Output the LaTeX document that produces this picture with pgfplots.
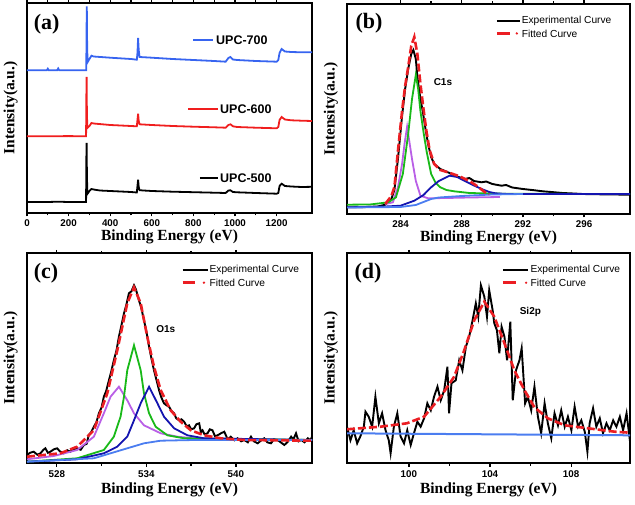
\documentclass[border=0pt]{standalone}
\usepackage{fontspec}
\setmainfont{Liberation Serif}
\newfontfamily\arialf{Liberation Sans}
\usepackage{pgfplots}
\pgfplotsset{compat=1.18}

\definecolor{fitred}{RGB}{235,30,35}
\definecolor{cgreen}{RGB}{25,185,25}
\definecolor{cpurple}{RGB}{185,95,230}
\definecolor{cblue}{RGB}{20,20,175}
\definecolor{clblue}{RGB}{75,125,240}
\definecolor{ablue}{RGB}{55,100,240}
\definecolor{ared}{RGB}{240,30,30}

\pgfplotsset{
  panel/.style={
    scale only axis, height=210pt, anchor=south west,
    axis line style={line width=2pt},
    ymin=0, ymax=210, ytick=\empty,
    tick align=outside, major tick length=3.5pt, minor tick length=2.5pt,
    every tick/.style={line width=1.3pt, black},
    minor x tick num=1,
    xticklabel style={font=\arialf\bfseries\fontsize{9.8}{11}\selectfont},
    /pgf/number format/assume math mode=true,
    /pgf/number format/set thousands separator={},
    xlabel={Binding Energy (eV)}, ylabel={Intensity(a.u.)},
    label style={font=\bfseries\fontsize{15.5}{18}\selectfont},
    ylabel style={at={(axis description cs:-0.057,0.5)}, anchor=center},
  },
  exp/.style={black, line width=1.9pt},
  fit/.style={fitred, line width=2.6pt, dash pattern=on 8pt off 3pt},
  comp/.style={line width=1.8pt},
}
\newcommand{\plab}[3]{\node[font=\bfseries\fontsize{22}{24}\selectfont] at (axis description cs:#1,#2) {#3};}
\newcommand{\leg}[4]{% x0 x1 xdot xtext
  \draw[black, line width=2pt] (axis description cs:#1,0.919) -- (axis description cs:#2,0.919);
  \node[anchor=west, inner sep=0pt, font=\arialf\fontsize{10.2}{12}\selectfont] at (axis description cs:#4,0.919) {Experimental Curve};
  \draw[fitred, line width=2.6pt] (axis description cs:#1,0.860) -- (axis description cs:#1+0.045,0.860);
  \fill[fitred] (axis description cs:#3,0.860) circle (1.3pt);
  \node[anchor=west, inner sep=0pt, font=\arialf\fontsize{10.2}{12}\selectfont] at (axis description cs:#4,0.860) {Fitted Curve};
}

\begin{document}
\begin{tikzpicture}
\path[use as bounding box] (0,0) rectangle (635pt,504pt);

% (a) survey spectra
\begin{axis}[panel, at={(27pt,291pt)}, width=285pt,
  xmin=0, xmax=1370, xtick={0,200,...,1200},
  xlabel style={at={(axis description cs:0.5,-0.112)}, anchor=center}]
\addplot[black, line width=1.8pt] coordinates {
(0,11) (100,11) (150,11.3) (200,11) (284,11) (285,50) (286.5,70) (288,40) (290,19)
(300,22) (310,24) (320,23.5) (350,22.5) (400,22) (450,21.5) (500,21) (528,20.5)
(531,27) (534,33.3) (537,26) (541,22.8) (560,22.5) (600,22) (700,21.3) (800,20.8)
(900,20.3) (955,20) (968,22.5) (978,22.7) (990,21) (1010,20.7) (1100,20) (1200,19.3)
(1208,20) (1214,27) (1224,29.3) (1240,27) (1270,26.5) (1320,26) (1370,26.2)};
\addplot[ared, line width=1.8pt] coordinates {
(0,76.7) (100,76.7) (200,76.9) (284,76.7) (285,110) (286.5,136) (288,100) (290,85)
(300,87) (310,90) (320,89.5) (400,88) (500,87) (528,86.7) (531,93) (534,99.3)
(537,92) (541,88.7) (600,88) (700,87) (800,86.3) (900,85.7) (955,85.3) (968,88)
(978,88.7) (990,86.7) (1010,86) (1100,85.3) (1200,84.7) (1208,86) (1214,93)
(1224,96) (1240,93.5) (1270,92.7) (1320,92.3) (1370,92)};
\addplot[ablue, line width=1.8pt] coordinates {
(0,142.7) (95,142.7) (100,144.3) (105,142.7) (145,142.7) (150,144.5) (155,142.7)
(285,142.7) (286,175) (287.5,206.7) (289,170) (291,150.7) (300,154) (310,157.3)
(320,156.5) (400,155.3) (500,154) (528,153.3) (531,160) (534,175) (537,163)
(541,156) (600,155.3) (700,154) (800,153) (900,152) (955,151.3) (968,155) (978,156)
(990,153.5) (1010,153) (1100,152) (1200,151.3) (1208,153) (1214,160) (1224,164)
(1240,161.5) (1270,161) (1320,160.7) (1370,160.7)};
\draw[ablue, line width=2pt] (axis description cs:0.583,0.824) -- (axis description cs:0.654,0.824);
\node[anchor=west, inner sep=0pt, font=\arialf\bfseries\fontsize{12.5}{14}\selectfont] at (axis description cs:0.663,0.824) {UPC-700};
\draw[ared, line width=2pt] (axis description cs:0.565,0.495) -- (axis description cs:0.670,0.495);
\node[anchor=west, inner sep=0pt, font=\arialf\bfseries\fontsize{12.5}{14}\selectfont] at (axis description cs:0.677,0.495) {UPC-600};
\draw[black, line width=2pt] (axis description cs:0.607,0.168) -- (axis description cs:0.670,0.168);
\node[anchor=west, inner sep=0pt, font=\arialf\bfseries\fontsize{12.5}{14}\selectfont] at (axis description cs:0.677,0.168) {UPC-500};
\plab{0.069}{0.90}{(a)}
\end{axis}

% (b) C1s
\begin{axis}[panel, at={(347pt,290pt)}, width=283pt,
  xmin=280.5, xmax=299, xtick={284,288,292,296},
  xlabel style={at={(axis description cs:0.5,-0.112)}, anchor=center}]
\addplot[exp] coordinates {
(280.5,6.7) (281.5,6.8) (282.5,7.5) (283,9.3) (283.4,15) (283.6,24) (283.83,55)
(284.1,98) (284.3,125) (284.5,145) (284.7,160) (284.84,164) (285.0,155) (285.1,137)
(285.3,115) (285.45,103) (285.6,88) (285.8,70) (286.0,57) (286.2,50) (286.6,45)
(287.1,41.7) (287.6,38) (288.2,35) (288.5,36) (288.8,33) (289.3,31.7) (289.6,32.5)
(290,30) (290.6,28.3) (290.9,29) (291.3,26.5) (292,25) (292.6,24) (293.3,22.7)
(294,21.8) (294.6,21) (295.3,20.5) (295.9,20) (297,19.7) (298,19.5) (299,19.3)};
\addplot[comp, cpurple] coordinates {
(283.0,10) (283.5,11.7) (283.83,26.7) (284.1,50) (284.26,70) (284.43,87.3) (284.6,70)
(284.75,55) (285.0,33) (285.3,18.3) (285.8,15.7) (287,16) (288.5,16.5) (290.5,17)};
\addplot[comp, cgreen] coordinates {
(280.5,9.3) (282,9.5) (283.2,11.7) (283.7,16.7) (284.15,40) (284.5,80) (284.75,115)
(285.0,139.3) (285.15,125) (285.3,103) (285.5,82) (285.7,63) (286.0,40) (286.3,31)
(286.6,26.7) (287.0,24) (287.5,22.7) (288.5,21) (289.3,20.7) (291,20.2) (299,20)};
\addplot[comp, cblue] coordinates {
(280.5,6.7) (283,7.5) (284,8.3) (284.9,13.3) (285.5,19) (286,26.7) (286.5,33)
(287.2,38.3) (287.7,37) (288.2,33) (288.8,28.5) (289.3,25) (289.8,22) (290.2,20.7)
(291,20) (299,20)};
\addplot[comp, clblue] coordinates {
(280.5,6.5) (284,7) (285,9) (285.5,12) (286,15) (286.5,16.5) (287,17) (288,18)
(290,19.5) (292,20)};
\addplot[fit] coordinates {
(283.0,10) (283.4,18) (283.6,27) (283.83,63) (284.1,103) (284.3,128) (284.5,147)
(284.7,168) (284.9,177) (285.1,160) (285.3,130) (285.5,105) (285.7,82) (285.9,64)
(286.2,50) (286.6,44) (287.1,41.7) (287.8,38) (288.5,33) (289,28) (289.5,22) (289.8,20)};
\node[font=\arialf\bfseries\fontsize{10}{12}\selectfont] at (axis description cs:0.339,0.630) {C1s};
\leg{0.530}{0.611}{0.600}{0.617}
\plab{0.078}{0.91}{(b)}
\end{axis}

% (c) O1s
\begin{axis}[panel, at={(27pt,40.7pt)}, width=285pt,
  xmin=526, xmax=545.1, xtick={528,534,540},
  xlabel style={at={(axis description cs:0.5,-0.128)}, anchor=center}]
\addplot[exp] coordinates {
(526.0,8.3) (526.2,10.5) (526.45,11.6) (526.7,8.5) (526.9,10) (527.1,13.5) (527.23,15)
(527.4,10.5) (527.57,11.6) (527.8,14) (528.02,15) (528.2,12) (528.46,10) (528.7,13)
(528.91,11.6) (529.1,14) (529.36,15) (529.6,13.5) (529.81,18.3) (530.0,19.5)
(530.14,28.3) (530.3,31) (530.48,36.6) (530.65,41) (530.82,50) (531.0,56) (531.15,66.6)
(531.3,72) (531.49,83) (531.65,92) (531.82,103) (532.0,113) (532.16,126.6) (532.3,136)
(532.5,150) (532.65,158) (532.83,170) (533.0,172) (533.17,178) (533.3,174) (533.5,163)
(533.65,156) (533.84,143) (534.0,132) (534.18,116.6) (534.35,104) (534.51,93)
(534.7,82) (534.85,73) (535.0,66) (535.18,60) (535.35,58) (535.52,56.6) (535.7,52)
(535.86,50) (536.0,45) (536.19,43) (536.35,44) (536.53,41.6) (536.7,37) (536.86,38)
(537.0,34) (537.2,35) (537.35,39) (537.54,40) (537.65,31) (537.76,33) (537.9,29)
(538.1,30) (538.25,34) (538.43,33) (538.6,27) (538.77,28) (539.0,30) (539.22,31.6)
(539.45,24) (539.66,26.6) (539.9,23) (540.11,25) (540.35,22) (540.56,23.3) (540.8,21)
(541.01,26.6) (541.2,22) (541.46,20) (541.7,23) (541.9,25) (542.1,21) (542.35,20)
(542.55,24) (542.8,23.3) (543.0,21) (543.25,18.3) (543.5,22) (543.7,26.6) (543.85,24)
(544.03,30) (544.2,22) (544.37,23.3) (544.6,21) (544.82,25) (545.0,23) (545.1,26.6)};
\addplot[comp, cpurple] coordinates {
(526,4) (527.79,7.3) (529.36,13.3) (530.48,26.6) (531.15,50) (531.6,66.6)
(532.16,76.6) (532.72,63) (533.17,50) (533.84,38) (534.96,30) (536.08,26.6)
(537.2,25) (539.44,23.5) (545.1,23.3)};
\addplot[comp, cgreen] coordinates {
(526,1.6) (529.36,5) (531.15,13.3) (531.82,26.6) (532.27,46.6) (532.5,66.6)
(532.72,93) (533.17,118) (533.62,93) (533.84,70) (534.18,50) (534.62,36.6)
(535.41,28) (536.53,25) (545.1,23.3)};
\addplot[comp, cblue] coordinates {
(526,1.6) (529.36,4) (531.15,10) (532.05,16.6) (532.72,26.6) (533.17,43) (533.62,60)
(534.18,76.6) (534.74,60) (535.18,46.6) (535.86,35) (536.75,28) (537.87,25) (545.1,23.3)};
\addplot[comp, clblue] coordinates {
(526,1.6) (530.48,5) (532.72,15) (533.84,20) (534.96,22.6) (537.2,23.3) (545.1,23.3)};
\addplot[fit] coordinates {
(526.0,6.6) (528.24,10) (529.36,16.6) (530.48,33) (531.38,70) (532.05,113)
(532.72,160) (533.17,176) (533.62,160) (534.06,126.6) (534.51,96.6) (534.96,73)
(535.63,53) (536.3,41.6) (536.98,33) (537.87,28) (538.99,25) (540.56,23.3) (545.1,22.6)};
\node[font=\arialf\bfseries\fontsize{10}{12}\selectfont] at (axis description cs:0.487,0.638) {O1s};
\leg{0.546}{0.636}{0.621}{0.640}
\plab{0.067}{0.906}{(c)}
\end{axis}

% (d) Si2p
\begin{axis}[panel, at={(347pt,40.7pt)}, width=283pt,
  xmin=96.95, xmax=110.9, xtick={100,104,108},
  xlabel style={at={(axis description cs:0.5,-0.128)}, anchor=center}]
\addplot[exp] coordinates {
(96.95,36.6) (97.12,23) (97.28,33) (97.45,20) (97.61,27) (97.78,36.6) (97.86,51.6)
(98.02,46.6) (98.19,36.6) (98.35,66.6) (98.52,40) (98.68,50) (98.85,33) (99.01,23)
(99.1,10) (99.26,36.6) (99.43,50) (99.59,27) (99.76,20) (99.92,33) (100.09,18.3)
(100.25,30) (100.42,41.6) (100.58,36.6) (100.75,45) (100.91,60) (101.08,53)
(101.24,66.6) (101.41,76.6) (101.57,63) (101.74,73) (101.9,96.6) (101.98,50)
(102.1,80) (102.31,83) (102.48,103) (102.64,93) (102.81,116.6) (102.97,126.6)
(103.14,143) (103.3,160) (103.42,146.6) (103.55,178) (103.72,166.6) (103.85,146.6)
(103.96,173) (104.13,153) (104.21,140) (104.34,133) (104.46,110) (104.57,136.6)
(104.71,126.6) (104.84,103) (105.0,141.6) (105.12,63) (105.28,93) (105.45,103)
(105.56,115) (105.73,60) (105.86,66.6) (106.03,53) (106.19,76.6) (106.36,46.6)
(106.52,30) (106.69,60) (106.85,40) (107.02,25) (107.18,50) (107.35,38) (107.51,53)
(107.68,36.6) (107.84,46.6) (108.01,33) (108.17,56.6) (108.34,36.6) (108.5,43)
(108.67,31.6) (108.8,11.6) (108.91,40) (109.08,55) (109.24,36.6) (109.41,45)
(109.57,30) (109.74,40) (109.9,33) (110.07,43) (110.23,36.6) (110.4,46.6)
(110.56,33) (110.73,50) (110.9,22)};
\addplot[comp, clblue, line width=2pt] coordinates {(96.95,30) (110.9,28)};
\addplot[fit] coordinates {
(96.95,34) (98.6,36.6) (99.9,40) (100.75,46.6) (101.57,66.6) (102.23,86.6)
(102.73,113) (103.22,143) (103.72,161.6) (104.21,146.6) (104.71,120) (105.2,93)
(105.7,73) (106.19,56) (106.85,45) (107.68,38) (108.83,35) (110.15,31.6) (110.9,30.6)};
\node[font=\arialf\bfseries\fontsize{10}{12}\selectfont] at (axis description cs:0.648,0.722) {Si2p};
\leg{0.551}{0.640}{0.633}{0.648}
\plab{0.074}{0.906}{(d)}
\end{axis}
\end{tikzpicture}
\end{document}
